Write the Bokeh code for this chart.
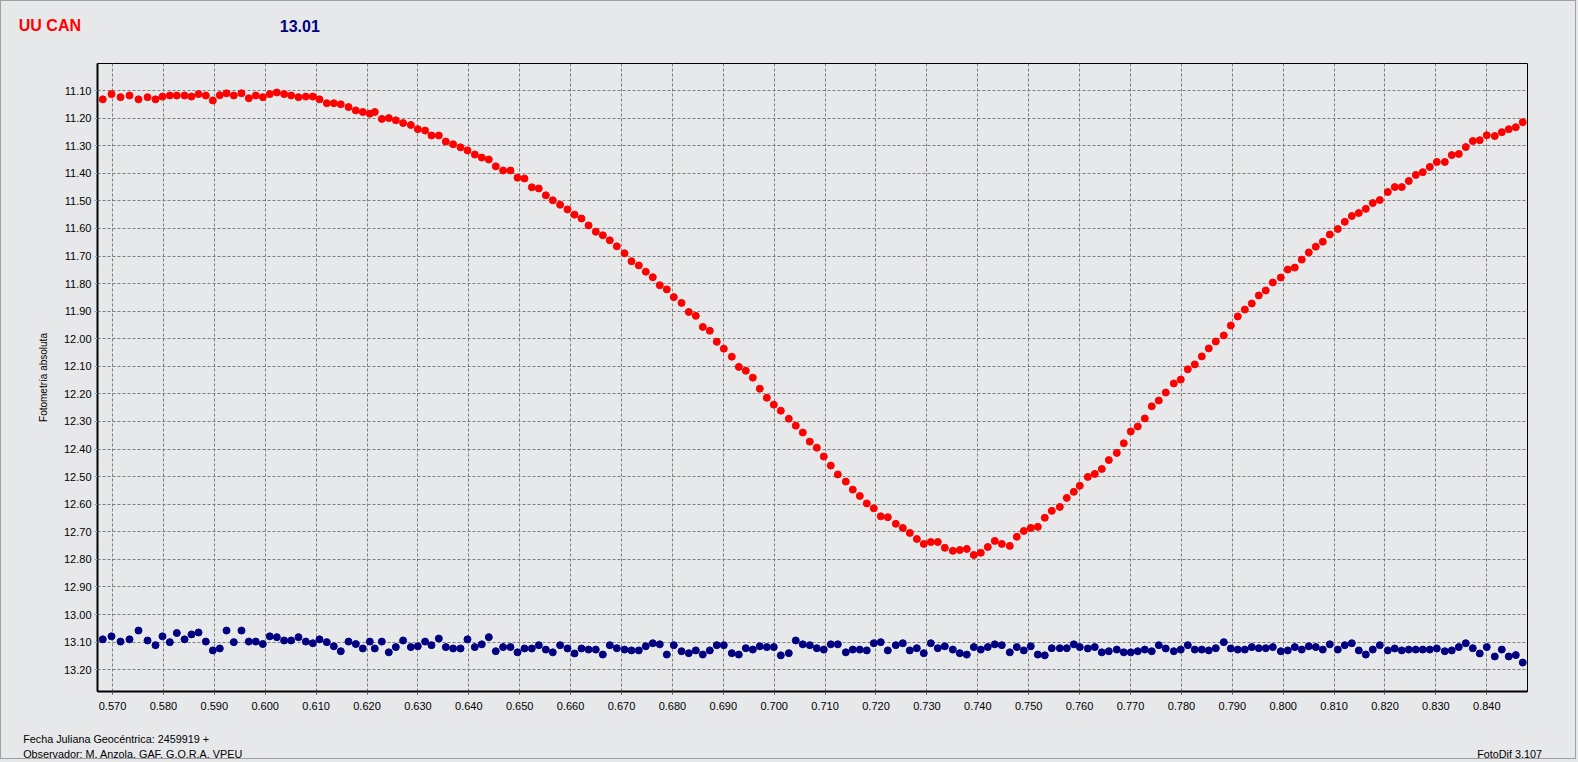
from bokeh.plotting import figure
from bokeh.models import Range1d, FixedTicker, NumeralTickFormatter, GlobalInlineStyleSheet
from bokeh.layouts import column
from bokeh.core.properties import value
from bokeh.embed import file_html
from bokeh.resources import INLINE

# ---------------- data ----------------
times = [
    0.56809, 0.56980, 0.57157, 0.57334, 0.57511, 0.57688, 0.57845, 0.57982, 0.58126, 0.58263,
    0.58415, 0.58552, 0.58690, 0.58833, 0.58971, 0.59108, 0.59240, 0.59383, 0.59534, 0.59678,
    0.59815, 0.59953, 0.60090, 0.60228, 0.60371, 0.60509, 0.60654, 0.60798, 0.60935, 0.61067,
    0.61210, 0.61348, 0.61485, 0.61637, 0.61780, 0.61918, 0.62055, 0.62153, 0.62291, 0.62428,
    0.62566, 0.62709, 0.62861, 0.62998, 0.63141, 0.63267, 0.63411, 0.63548, 0.63692, 0.63837,
    0.63974, 0.64118, 0.64255, 0.64393, 0.64530, 0.64674, 0.64819, 0.64957, 0.65094, 0.65238,
    0.65375, 0.65513, 0.65650, 0.65794, 0.65939, 0.66077, 0.66214, 0.66352,
    0.66495, 0.66633, 0.66770, 0.66908, 0.67059, 0.67196, 0.67340, 0.67477, 0.67615, 0.67752,
    0.67890, 0.68027, 0.68179, 0.68322, 0.68460, 0.68597, 0.68735, 0.68872, 0.69010, 0.69167,
    0.69305, 0.69442, 0.69580, 0.69717, 0.69855, 0.69992, 0.70130, 0.70287, 0.70424, 0.70562,
    0.70699, 0.70837, 0.70974, 0.71112, 0.71250, 0.71407, 0.71544, 0.71682, 0.71819, 0.71957,
    0.72094, 0.72232, 0.72389, 0.72527, 0.72664, 0.72802, 0.72939, 0.73077, 0.73214, 0.73352,
    0.73509, 0.73646, 0.73784, 0.73921, 0.74059, 0.74196, 0.74334, 0.74472, 0.74629, 0.74766,
    0.74904, 0.75041, 0.75179, 0.75316, 0.75454, 0.75611, 0.75748, 0.75886, 0.76004,
    0.76161, 0.76298, 0.76436, 0.76574, 0.76731, 0.76868, 0.77006, 0.77143, 0.77281, 0.77418,
    0.77556, 0.77693, 0.77851, 0.77988, 0.78126, 0.78263, 0.78401, 0.78538, 0.78676, 0.78833,
    0.78971, 0.79108, 0.79246, 0.79383, 0.79521, 0.79658, 0.79796, 0.79953, 0.80090, 0.80228,
    0.80365, 0.80503, 0.80640, 0.80778, 0.80916, 0.81073, 0.81210, 0.81348, 0.81485, 0.81623,
    0.81760, 0.81898, 0.82055, 0.82192, 0.82330, 0.82467, 0.82605, 0.82742, 0.82880, 0.83018,
    0.83175, 0.83312, 0.83450, 0.83587, 0.83725, 0.83862, 0.84000, 0.84157, 0.84295, 0.84432,
    0.84570, 0.84707,
]

uu_can = [
    11.132, 11.113, 11.124, 11.118, 11.132, 11.124, 11.132, 11.122, 11.118, 11.118,
    11.118, 11.122, 11.113, 11.118, 11.136, 11.117, 11.110, 11.118, 11.110, 11.128,
    11.118, 11.124, 11.113, 11.107, 11.113, 11.118, 11.124, 11.122, 11.122, 11.132,
    11.146, 11.146, 11.150, 11.160, 11.172, 11.178, 11.184, 11.178, 11.203, 11.200,
    11.208, 11.218, 11.225, 11.240,
    11.245, 11.263, 11.263, 11.285, 11.295, 11.306, 11.317, 11.332, 11.343, 11.350,
    11.375, 11.390, 11.390, 11.416, 11.419, 11.451, 11.455, 11.480, 11.498, 11.514,
    11.531, 11.550, 11.564, 11.589, 11.612, 11.625, 11.643, 11.665, 11.690, 11.719,
    11.734, 11.757, 11.777, 11.806, 11.821, 11.849,
    11.870, 11.903, 11.917, 11.957, 11.971, 12.011, 12.036, 12.065, 12.102, 12.116,
    12.141, 12.181, 12.214, 12.239, 12.261, 12.290, 12.315, 12.340, 12.373, 12.395,
    12.427, 12.460, 12.492, 12.518, 12.547, 12.570, 12.597, 12.615, 12.644, 12.647,
    12.671, 12.686, 12.704, 12.726, 12.744, 12.737, 12.737, 12.758, 12.769, 12.766,
    12.762, 12.784, 12.776, 12.755, 12.733, 12.744, 12.751, 12.718, 12.697, 12.686,
    12.682, 12.649, 12.624, 12.610, 12.577, 12.555, 12.533, 12.501, 12.490, 12.472,
    12.440, 12.414,
    12.379, 12.336, 12.318, 12.289, 12.245, 12.224, 12.195, 12.162, 12.148, 12.111,
    12.093, 12.064, 12.035, 12.010, 11.988, 11.952, 11.919, 11.894, 11.872, 11.843,
    11.825, 11.796, 11.778, 11.749, 11.742, 11.713, 11.687, 11.666, 11.648, 11.622,
    11.602, 11.576, 11.555, 11.544, 11.529, 11.508, 11.497, 11.468, 11.450, 11.450,
    11.428, 11.406, 11.396, 11.377, 11.359, 11.359, 11.334, 11.330, 11.305, 11.283,
    11.280, 11.262, 11.265, 11.251, 11.240, 11.233, 11.215,
]

comparison = [
    13.090, 13.079, 13.098, 13.090, 13.058, 13.094, 13.111, 13.079, 13.100, 13.067,
    13.090, 13.072, 13.065, 13.098, 13.130, 13.123, 13.058, 13.100, 13.058, 13.098,
    13.098, 13.107, 13.079, 13.082, 13.094, 13.094, 13.082, 13.098, 13.104, 13.090,
    13.100, 13.115, 13.133, 13.098, 13.107, 13.123, 13.098, 13.123, 13.098, 13.137,
    13.118, 13.094, 13.118, 13.115, 13.098, 13.111, 13.087, 13.118, 13.123, 13.123,
    13.090, 13.118, 13.108, 13.082, 13.133, 13.118, 13.118, 13.137, 13.123, 13.123,
    13.111, 13.127, 13.137, 13.111, 13.123, 13.141, 13.123, 13.127,
    13.127, 13.145, 13.111, 13.122, 13.127, 13.130, 13.130, 13.115, 13.104, 13.108,
    13.145, 13.111, 13.133, 13.140, 13.130, 13.145, 13.130, 13.111, 13.111, 13.140,
    13.145, 13.122, 13.127, 13.115, 13.118, 13.118, 13.148, 13.140, 13.094, 13.108,
    13.111, 13.122, 13.127, 13.108, 13.108, 13.137, 13.127, 13.127, 13.130, 13.104,
    13.100, 13.130, 13.111, 13.104, 13.130, 13.122, 13.140, 13.104, 13.122, 13.115,
    13.127, 13.140, 13.145, 13.118, 13.127, 13.118, 13.108, 13.111, 13.137, 13.118,
    13.130, 13.115, 13.145, 13.148, 13.122, 13.122, 13.122, 13.108, 13.118,
    13.123, 13.118, 13.137, 13.133, 13.127, 13.137, 13.137, 13.133, 13.127, 13.133,
    13.111, 13.123, 13.133, 13.127, 13.111, 13.127, 13.127, 13.130, 13.122, 13.100,
    13.123, 13.127, 13.127, 13.118, 13.122, 13.122, 13.118, 13.133, 13.130, 13.118,
    13.127, 13.115, 13.118, 13.127, 13.108, 13.127, 13.111, 13.104, 13.130, 13.145,
    13.127, 13.111, 13.130, 13.123, 13.130, 13.127, 13.127, 13.127, 13.127, 13.123,
    13.133, 13.130, 13.118, 13.104, 13.122, 13.141, 13.118, 13.152, 13.127, 13.152,
    13.147, 13.174,
]

x_ticks = [0.570, 0.580, 0.590, 0.600, 0.610, 0.620, 0.630, 0.640, 0.650, 0.660,
           0.670, 0.680, 0.690, 0.700, 0.710, 0.720, 0.730, 0.740, 0.750, 0.760,
           0.770, 0.780, 0.790, 0.800, 0.810, 0.820, 0.830, 0.840]
y_ticks = [11.10, 11.20, 11.30, 11.40, 11.50, 11.60, 11.70, 11.80, 11.90, 12.00,
           12.10, 12.20, 12.30, 12.40, 12.50, 12.60, 12.70, 12.80, 12.90, 13.00,
           13.10, 13.20]

title_star = "UU CAN"
title_mag = "13.01"
footer_date = "Fecha Juliana Geocéntrica: 2459919 +"
footer_obs = "Observador:  M. Anzola. GAF. G.O.R.A. VPEU"
footer_soft = "FotoDif 3.107"

assert len(times) == len(uu_can) == len(comparison), (len(times), len(uu_can), len(comparison))

# ---------------- style constants ----------------
BG = "#E7E8EA"
FONT = "Liberation Sans"
W = 1578
H_HEAD, H_MAIN, H_FOOT = 38, 682, 42


def text_strip(height):
    f = figure(width=W, height=height, x_range=Range1d(0, W), y_range=Range1d(0, height),
               output_backend="svg", toolbar_location=None, title=None,
               x_axis_type=None, y_axis_type=None,
               min_border=0, min_border_left=0, min_border_right=0,
               min_border_top=0, min_border_bottom=0)
    f.frame_align = False
    f.background_fill_color = BG
    f.border_fill_color = BG
    f.outline_line_color = None
    f.xgrid.visible = False
    f.ygrid.visible = False
    return f


# ---------------- header ----------------
head = text_strip(H_HEAD)
head.text(x=[18.3], y=[13], text=[title_star], text_font=value(FONT), text_font_size="16px",
          text_font_style="bold", text_color="#FF0000", text_baseline="alphabetic")
head.text(x=[279.3], y=[13], text=[title_mag], text_font=value(FONT), text_font_size="16px",
          text_font_style="bold", text_color="#000080", text_baseline="alphabetic")

# ---------------- main plot ----------------
p = figure(width=W, height=H_MAIN,
           x_range=Range1d(0.56705, 0.8480), y_range=Range1d(13.279, 11.002),
           output_backend="svg", toolbar_location=None, title=None,
           min_border_left=97, min_border_right=51, min_border_top=25, min_border_bottom=29)
p.frame_align = False

p.background_fill_color = BG
p.border_fill_color = BG
p.outline_line_color = "black"
p.outline_line_width = 1

for g in (p.xgrid, p.ygrid):
    g.grid_line_color = "#7d7d7d"
    g.grid_line_dash = "3 2"
    g.grid_line_width = 1
p.xgrid.ticker = FixedTicker(ticks=x_ticks)
p.ygrid.ticker = FixedTicker(ticks=y_ticks)

p.xaxis.ticker = FixedTicker(ticks=x_ticks)
p.yaxis.ticker = FixedTicker(ticks=y_ticks)
p.xaxis.formatter = NumeralTickFormatter(format="0.000")
p.yaxis.formatter = NumeralTickFormatter(format="0.00")

for ax in (p.xaxis[0], p.yaxis[0]):
    ax.axis_line_color = "black"
    ax.axis_line_width = 2
    ax.major_tick_in = 0
    ax.major_tick_out = 3
    ax.minor_tick_in = 0
    ax.minor_tick_out = 0
    ax.major_label_text_font = FONT
    ax.major_label_text_font_size = "11px"
    ax.major_label_text_color = "black"
p.xaxis.major_tick_line_color = "#555555"
p.yaxis.major_tick_line_color = "#6fb6e6"
p.xaxis.major_label_standoff = 7
p.yaxis.major_label_standoff = 3

p.yaxis.axis_label = "Fotometría absoluta"
p.yaxis.axis_label_text_font = FONT
p.yaxis.axis_label_text_font_size = "10px"
p.yaxis.axis_label_text_font_style = "normal"
p.yaxis.axis_label_text_color = "black"
p.yaxis.axis_label_standoff = 12

p.scatter(times, uu_can, marker="circle", size=7, fill_color="#FF0000", line_color="#FF0000")
p.scatter(times, comparison, marker="circle", size=7, fill_color="#000080", line_color="#000080")

# ---------------- footer ----------------
foot = text_strip(H_FOOT)
foot.text(x=[22.7], y=[23.5], text=[footer_date], text_font=value(FONT), text_font_size="10.8px",
          text_color="black", text_baseline="alphabetic")
foot.text(x=[22.7], y=[8.7], text=[footer_obs], text_font=value(FONT), text_font_size="10.8px",
          text_color="black", text_baseline="alphabetic")
foot.text(x=[1476.7], y=[8.7], text=[footer_soft], text_font=value(FONT), text_font_size="10.8px",
          text_color="black", text_baseline="alphabetic")

# page background and the thin window frame around the whole picture
page_css = GlobalInlineStyleSheet(css=(
    "html, body { background-color: %s; }\n"
    "body::after { content: ''; position: fixed; left: 0; top: 0; width: 1576px; height: 759px;"
    " border: 1px solid #a0a0a0; box-sizing: border-box; pointer-events: none; z-index: 100; }"
) % BG)

layout = column(head, p, foot, spacing=0, styles={"background-color": BG}, stylesheets=[page_css])
open("out.html", "w").write(file_html(layout, INLINE))
